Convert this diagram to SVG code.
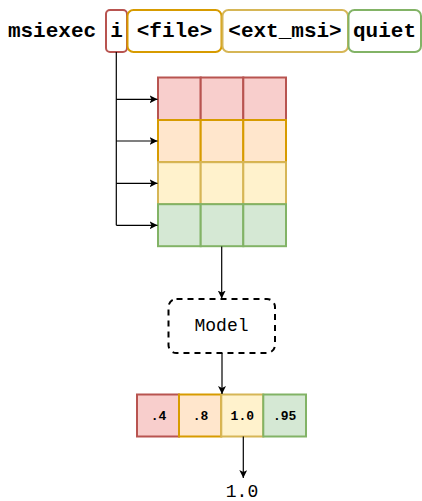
<svg xmlns="http://www.w3.org/2000/svg" width="422" height="501" viewBox="0 0 422 501">
<style>
.t{font-family:"Liberation Mono","Courier New",monospace;fill:#000;text-anchor:middle}
.b{font-weight:bold}
.red{fill:#f8cecc;stroke:#b85450}
.ora{fill:#ffe6cc;stroke:#d79b00}
.yel{fill:#fff2cc;stroke:#d6b656}
.gre{fill:#d5e8d4;stroke:#82b366}
.cell{stroke-width:2}
.tb{fill:#fff;stroke-width:2}
.c{fill:none;stroke:#000;stroke-width:1.2}
</style>
<defs>
<marker id="ah" viewBox="0 0 10 10" refX="10" refY="5" markerWidth="8" markerHeight="8" markerUnits="userSpaceOnUse" orient="auto">
<path d="M0,0 L10,5 L0,10 L2.5,5 Z" fill="#000"/>
</marker>
</defs>
<g id="cmd">
<text class="t b" x="52" y="37" font-size="21">msiexec</text>
</g>
<g id="arg-i">
<rect class="tb" x="106" y="10" width="21" height="42" rx="4" stroke="#b85450"/>
<text class="t b" x="116.5" y="37" font-size="21">i</text>
</g>
<g id="arg-file">
<rect class="tb" x="127.5" y="10" width="94" height="42" rx="6" stroke="#d79b00"/>
<text class="t b" x="174.5" y="37" font-size="21">&lt;file&gt;</text>
</g>
<g id="arg-ext">
<rect class="tb" x="222.5" y="10" width="125.5" height="42" rx="6" stroke="#d6b656"/>
<text class="t b" x="285" y="37" font-size="21">&lt;ext_msi&gt;</text>
</g>
<g id="arg-quiet">
<rect class="tb" x="348.5" y="10" width="72.5" height="42" rx="6" stroke="#82b366"/>
<text class="t b" x="384.5" y="37" font-size="21">quiet</text>
</g>
<g id="grid">
<rect class="cell red" x="158" y="77.5" width="42.7" height="42.5"/>
<rect class="cell red" x="200.7" y="77.5" width="42.6" height="42.5"/>
<rect class="cell red" x="243.3" y="77.5" width="42.7" height="42.5"/>
<rect class="cell ora" x="158" y="120" width="42.7" height="42.2"/>
<rect class="cell ora" x="200.7" y="120" width="42.6" height="42.2"/>
<rect class="cell ora" x="243.3" y="120" width="42.7" height="42.2"/>
<rect class="cell yel" x="158" y="162.2" width="42.7" height="42"/>
<rect class="cell yel" x="200.7" y="162.2" width="42.6" height="42"/>
<rect class="cell yel" x="243.3" y="162.2" width="42.7" height="42"/>
<rect class="cell gre" x="158" y="204.2" width="42.7" height="42"/>
<rect class="cell gre" x="200.7" y="204.2" width="42.6" height="42"/>
<rect class="cell gre" x="243.3" y="204.2" width="42.7" height="42"/>
</g>
<g id="model">
<rect x="168.5" y="299" width="106.5" height="54" rx="8" fill="#fff" stroke="#000" stroke-width="2" stroke-dasharray="6,5"/>
<text class="t" x="221.5" y="331" font-size="18">Model</text>
</g>
<g id="scores">
<rect class="cell red" x="137" y="394.5" width="42" height="42"/>
<rect class="cell ora" x="179" y="394.5" width="42.3" height="42"/>
<rect class="cell yel" x="221.3" y="394.5" width="42" height="42"/>
<rect class="cell gre" x="263.3" y="394.5" width="42.7" height="42"/>
<text class="t b" x="158.5" y="420" font-size="13">.4</text>
<text class="t b" x="200.5" y="420" font-size="13">.8</text>
<text class="t b" x="242.3" y="420" font-size="13">1.0</text>
<text class="t b" x="284.6" y="420" font-size="13">.95</text>
</g>
<g id="result">
<text class="t" x="242" y="497" font-size="18">1.0</text>
</g>
<g id="connectors">
<path class="c" d="M116.3,52 V225.3"/>
<path class="c" d="M116.3,99.3 H157.5" marker-end="url(#ah)"/>
<path class="c" d="M116.3,141 H157.5" marker-end="url(#ah)"/>
<path class="c" d="M116.3,183.3 H157.5" marker-end="url(#ah)"/>
<path class="c" d="M116.3,225.3 H157.5" marker-end="url(#ah)"/>
<path class="c" d="M221.7,246.5 V298.5" marker-end="url(#ah)"/>
<path class="c" d="M222,353 V394" marker-end="url(#ah)"/>
<path class="c" d="M243.3,436.5 V478" marker-end="url(#ah)"/>
</g>
</svg>
